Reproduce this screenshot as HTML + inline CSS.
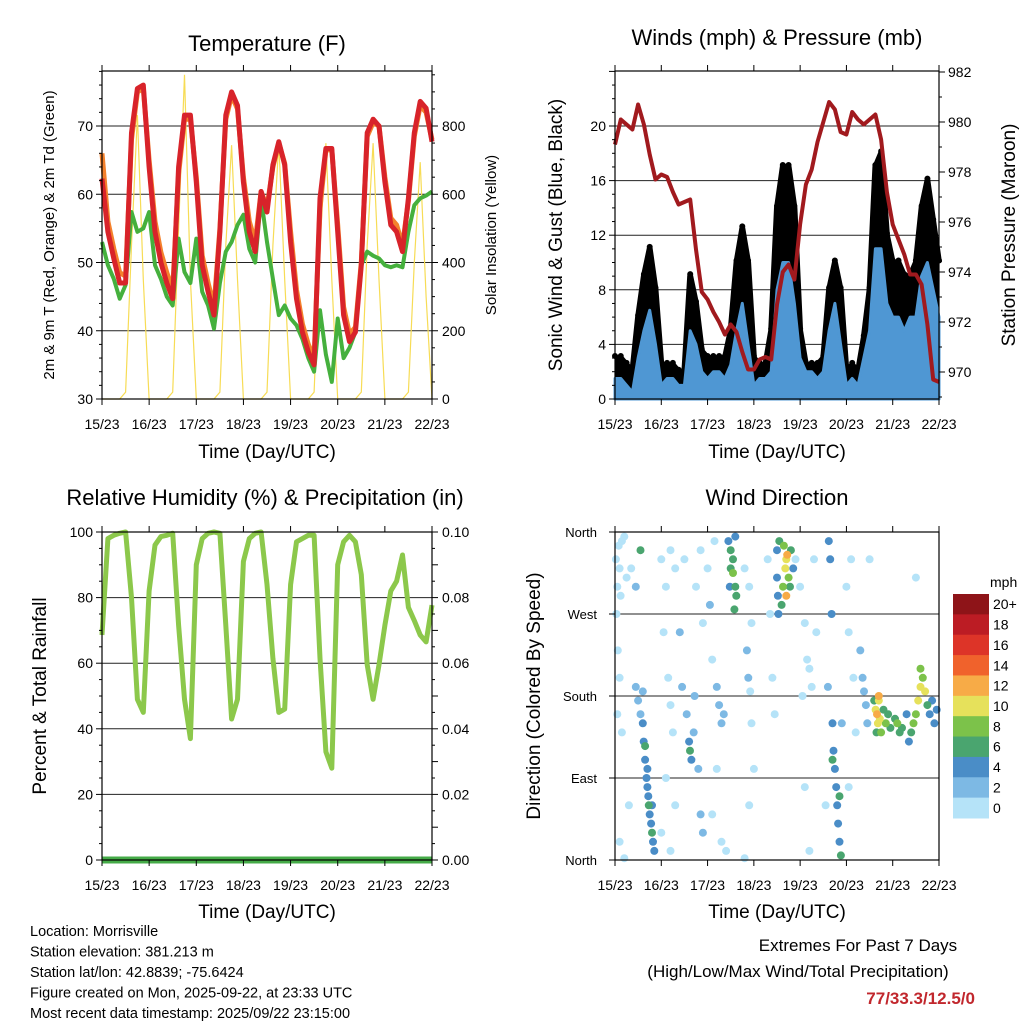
<!DOCTYPE html>
<html><head><meta charset="utf-8">
<style>
html,body{margin:0;padding:0;background:#fff;}
svg{display:block;font-family:"Liberation Sans",sans-serif;}
</style></head>
<body>
<svg id="c" width="1024" height="1024" viewBox="0 0 1024 1024" xmlns="http://www.w3.org/2000/svg"></svg>
<script>
// ---------- DATA (3-hour steps, 0..7 days) ----------
const dayLabels=["15/23","16/23","17/23","18/23","19/23","20/23","21/23","22/23"];
const tempRed=[62.3,54.5,50.6,47,47,69,75.5,76,64,54.5,50,47,44.7,64,71.6,71.6,61.8,49.6,45.7,42.3,54.5,71.6,75,73,61.8,54.5,51.6,60.4,57.4,64.3,67.7,64.3,53,44.7,39.8,36.9,35,59.4,66.7,66.7,54.5,42.3,38.4,39.8,49.6,69,71,70,61.8,55.5,54.5,51.6,59.4,69,73.6,72.6,67.7];
const tempOrange=[66,56,52,48.5,48,68,75,75.5,65,56,51.5,48.5,46,63,71,71,62.5,51,47,43.5,55,71,74.5,72.5,62.5,56,53,60.4,58,64,67.5,64.5,54.5,46,41,38,36,58,66.5,66.5,55.5,43.5,39.5,40.5,50,68.5,70.5,70,62.5,56.5,55.5,52.5,59,68.5,73,72,68];
const tempDew=[53,49.6,47.6,44.7,46.7,57.4,54.5,55,57.4,49.6,47.6,45,43.7,53.5,48.6,47,53.5,45.7,43.7,40.3,47,51.6,53,55.5,57,52,50,59.4,53,47.6,42.3,43.7,41.8,40.8,38.8,36,34,43,36.5,32.5,41.8,36,37.5,39.8,49.6,51.6,51,50.6,49.6,49.3,49.6,49.3,54.5,58.4,59.4,59.8,60.4];
const solar=[0,0,0,0,20,450,832,350,0,0,0,0,20,500,950,350,0,0,0,0,20,450,744,350,0,0,0,0,20,450,750,350,0,0,0,0,20,450,750,350,0,0,0,0,20,450,750,350,0,0,0,0,20,400,694,300,0];
const windSpd=[1.5,1.5,1,0.5,3,5,6.5,4,1,1.5,1.5,1,1,5,4,2,1.5,2,2,1.5,2.5,5,7,4,1,1.5,1.5,2,8,10,10,7,3,2,2,1.5,2,5,7,4,1,1.5,1,3,5,11,11,7,6,6,5,6,6,9,10,8,6];
const windGust=[3,3,2.5,2,6,9,11,8,2.5,2.5,2.5,2,2,9,7,3.5,3,3,3,3,5,10,12.5,10,3,2.5,2.5,5,14,17,17,14,5,2.5,2.5,2.5,3,8,10,8,2,2.5,2,4.5,8,17,18,12,10,10,9,9,10,14,16,13,10];
const pressure=[979.1,980.1,979.9,979.7,980.7,979.9,978.7,977.7,977.9,977.8,977.2,976.7,976.8,976.9,974.9,973.2,972.9,972.4,972,971.5,971.9,971.6,970.8,970.1,970.1,970.5,970.6,970.5,972.7,974,974.3,973.7,975.9,977.5,978.1,979.2,980,980.8,980.5,979.6,979.5,980.4,980.1,979.9,980.1,980.3,979.3,977.2,975.9,975.3,974.7,973.9,973.9,973.5,971.9,969.7,969.6];
const rh=[68.6,98,99,99.6,100,80,49,45,82,96,98.6,99,99.6,71.6,49,37,90,98,99.6,100,99.6,71.6,43,49,91,98,99.6,100,84,61.5,45,46,84,97,98,99,99,61.5,33,28,90,97,99,97,87,59.5,49,59.5,71.6,82,85,93,77,73,68.6,66.5,77.7];
const precip=[0,0,0,0,0,0,0,0,0,0,0,0,0,0,0,0,0,0,0,0,0,0,0,0,0,0,0,0,0,0,0,0,0,0,0,0,0,0,0,0,0,0,0,0,0,0,0,0,0,0,0,0,0,0,0,0,0];
const dirDays=[0.02,0.05,0.08,0.1,0.12,0.15,0.03,0.06,0.1,0.2,0.25,0.05,0.15,0.3,0.1,0.2,0.35,0.45,0.55,
0.45,0.5,0.55,0.6,0.62,0.65,0.68,0.7,0.72,0.73,0.75,0.78,0.8,0.82,0.7,0.65,0.8,0.6,0.85,
1.0,1.1,1.2,1.3,1.05,1.15,1.2,1.25,1.1,1.3,1.0,1.2,1.4,1.45,1.5,
1.55,1.6,1.62,1.65,1.7,1.72,1.8,1.85,1.9,1.75,1.85,1.9,
2.0,2.05,2.1,2.2,2.25,2.3,2.35,2.2,2.1,2.3,2.15,2.4,
2.45,2.5,2.55,2.55,2.6,2.5,2.62,2.48,2.6,2.58,
2.8,2.9,2.95,2.85,2.88,2.92,2.95,3.0,2.9,2.8,
3.3,3.35,3.4,3.45,3.5,3.5,3.52,3.53,3.55,3.65,3.7,3.68,3.72,3.75,3.78,3.63,3.8,3.85,3.6,3.7,
3.9,4.0,4.1,4.15,4.2,4.05,4.25,4.1,4.2,4.3,4.35,
4.62,4.65,4.68,4.7,4.72,4.75,4.78,4.8,4.82,4.85,4.88,4.7,4.85,4.6,4.55,4.9,
5.0,5.05,5.1,5.15,5.2,5.05,5.3,5.35,5.38,5.42,5.45,5.5,
5.6,5.63,5.66,5.68,5.7,5.72,5.75,5.8,5.85,5.9,5.95,5.7,5.65,
6.05,6.1,6.15,6.2,6.3,6.35,6.4,6.45,6.5,6.55,6.6,6.65,6.7,6.75,6.8,6.85,6.9,6.95,6.6,6.5];
const dirDeg=[330,300,345,320,290,350,270,230,200,355,310,160,140,60,20,2,320,300,340,
190,175,160,150,130,110,90,80,70,60,50,40,30,20,100,125,60,185,10,
330,300,340,320,250,200,170,140,90,60,30,10,250,190,330,
160,130,120,110,140,180,100,50,30,300,340,260,
320,280,220,190,170,150,160,100,50,20,350,10,
350,340,330,315,300,320,290,300,355,275,
320,300,260,230,200,185,150,100,60,2,
330,270,200,160,340,310,290,270,350,345,330,320,335,310,300,300,340,320,280,290,
330,300,260,220,210,180,190,80,10,330,250,
350,330,270,150,120,100,80,60,40,20,5,110,70,190,60,150,
300,250,330,200,140,80,230,200,185,170,150,330,
175,165,160,150,175,155,140,165,150,160,145,180,140,
155,150,140,145,160,130,140,150,160,175,190,200,185,170,160,175,150,165,210,310];
const dirSpd=[0,0,0,0,1,0,0,0,0,0,0,0,0,0,0,0,0,2,6,
2,2,3,4,4,5,4,4,5,6,5,4,6,4,5,6,4,3,4,
0,0,1,0,0,0,0,1,0,0,0,0,2,2,1,
2,4,6,4,3,2,2,2,3,1,0,1,
1,2,0,2,2,2,2,0,0,0,0,0,
4,6,7,8,6,7,6,4,5,6,
1,0,1,2,2,1,0,0,0,0,
1,0,0,0,4,5,4,4,6,8,10,10,12,8,7,8,6,4,6,12,
1,0,0,1,0,1,0,0,0,1,0,
4,4,4,4,4,5,4,4,4,4,6,6,6,2,0,2,
1,0,0,0,0,0,2,2,2,2,3,0,
6,10,12,10,11,10,8,6,8,6,7,12,7,
6,8,6,6,4,4,6,8,8,10,10,8,10,6,4,4,4,4,8,0];
const speedLabels=["20+","18","16","14","12","10","8","6","4","2","0"];
const dirLabels=["North","West","South","East","North"];

// ---------- RENDER ----------
const svg=document.getElementById('c');
const NS="http://www.w3.org/2000/svg";
function mk(tag,attrs,parent){const e=document.createElementNS(NS,tag);for(const k in attrs)e.setAttribute(k,attrs[k]);(parent||svg).appendChild(e);return e;}
function txt(s,x,y,size,anchor,parent,extra){const t=mk('text',Object.assign({x:x,y:y,'font-size':size,'text-anchor':anchor||'middle',fill:'#000'},extra||{}),parent);t.textContent=s;return t;}
function pts(arr,xf,yf){return arr.map((v,i)=>xf(i/8).toFixed(1)+','+yf(v).toFixed(1)).join(' ');}

function frame(g,x0,y0,x1,y1,bottomLabelY){
  const r=mk('rect',{x:x0,y:y0,width:x1-x0,height:y1-y0,fill:'none',stroke:'#000','stroke-width':1.2},g);
  
  const xs=d=>x0+d*(x1-x0)/7;
  for(let i=0;i<8;i++){
    const x=xs(i);
    mk('line',{x1:x,y1:y1,x2:x,y2:y1+6,stroke:'#000','stroke-width':1},g);
    mk('line',{x1:x,y1:y0,x2:x,y2:y0-6,stroke:'#000','stroke-width':1},g);
    const t=txt(dayLabels[i],x,bottomLabelY,14,'middle',g);
    
  }
  return xs;
}
function hgrid(g,x0,x1,y){mk('line',{x1:x0,y1:y,x2:x1,y2:y,stroke:'#222','stroke-width':1},g);}
function ytick(g,x,y,dir,len){mk('line',{x1:x,y1:y,x2:x+dir*len,y2:y,stroke:'#000','stroke-width':1},g);}

// ===== Panel 1: Temperature =====
(function(){
  const g=mk('g',{});
  const x0=102,x1=432,y0=71,y1=399;
  const yT=v=>399-(v-30)*6.825, yS=v=>399-v*68.25/200;
  [40,50,60,70].forEach(v=>hgrid(g,x0,x1,yT(v)));
  const xs=d=>x0+d*(x1-x0)/7;
  const sl=mk('polyline',{points:pts(solar,xs,yS),fill:'none',stroke:'#f7dc55','stroke-width':1.2},g);
  
  const o=mk('polyline',{points:pts(tempOrange,xs,yT),fill:'none',stroke:'#f4812c','stroke-width':5,'stroke-linejoin':'round'},g);
  
  const gr=mk('polyline',{points:pts(tempDew,xs,yT),fill:'none',stroke:'#45b03d','stroke-width':4,'stroke-linejoin':'round'},g);
  
  const r=mk('polyline',{points:pts(tempRed,xs,yT),fill:'none',stroke:'#d8232a','stroke-width':5,'stroke-linejoin':'round'},g);
  
  frame(g,x0,y0,x1,y1,429);
  for(let v=30;v<=78;v+=2){ytick(g,x0,yT(v),-1,v%10==0?6:3);}
  [30,40,50,60,70].forEach(v=>{const t=txt(String(v),93,yT(v)+5,14,'end',g);});
  for(let v=0;v<=950;v+=50){ytick(g,x1,yS(v),1,v%200==0?6:3);}
  [0,200,400,600,800].forEach(v=>{const t=txt(String(v),442,yS(v)+5,14,'start',g);});
  let t=txt('Temperature (F)',267,51,22,'middle',g);
  t=txt('Time (Day/UTC)',267,458,19,'middle',g);
  t=txt('2m & 9m T (Red, Orange) & 2m Td (Green)',0,0,15,'middle',g,{transform:'translate(54,235) rotate(-90)'});
  t=txt('Solar Insolation (Yellow)',0,0,15,'middle',g,{transform:'translate(496,235) rotate(-90)'});
})();

// ===== Panel 2: Winds & Pressure =====
(function(){
  const g=mk('g',{});
  const x0=615,x1=939,y0=71,y1=399;
  const yW=v=>399-v*13.65, yP=v=>122+(980-v)*25;
  [4,8,12,16,20].forEach(v=>hgrid(g,x0,x1,yW(v)));
  const xs=d=>x0+d*(x1-x0)/7;
  const up=windGust.map((v,i)=>xs(i/8).toFixed(1)+','+yW(v).toFixed(1));
  const lo=windSpd.map((v,i)=>xs(i/8).toFixed(1)+','+yW(v).toFixed(1)).reverse();
  const ga=mk('polygon',{points:up.concat(lo).join(' '),fill:'#000'},g);
  
  const gl=mk('polyline',{points:pts(windGust,xs,yW),fill:'none',stroke:'#000','stroke-width':6,'stroke-linejoin':'round'},g);
  
  windGust.forEach((v,i)=>{const c=mk('circle',{cx:xs(i/8),cy:yW(v)-2,r:3,fill:'#000'},g);});
  const wl=windSpd.map((v,i)=>xs(i/8).toFixed(1)+','+yW(v).toFixed(1));
  const wa=mk('polygon',{points:[x0+','+y1].concat(wl).concat([x1+','+y1]).join(' '),fill:'#4f97d3',stroke:'#4f97d3','stroke-width':3,'stroke-linejoin':'round'},g);
  
  const pl=mk('polyline',{points:pts(pressure,xs,yP),fill:'none',stroke:'#a11a1e','stroke-width':4,'stroke-linejoin':'round'},g);
  
  frame(g,x0,y0,x1,y1,429);
  for(let v=0;v<=24;v+=1){ytick(g,x0,yW(v),-1,v%4==0?6:3);}
  [0,4,8,12,16,20].forEach(v=>{const t=txt(String(v),606,yW(v)+5,14,'end',g);});
  for(let v=969;v<=982;v+=1){ytick(g,x1,yP(v),1,v%2==0?6:3);}
  [970,972,974,976,978,980,982].forEach(v=>{const t=txt(String(v),948,yP(v)+5,14,'start',g);});
  let t=txt('Winds (mph) & Pressure (mb)',777,45,22,'middle',g);
  t=txt('Time (Day/UTC)',777,458,19,'middle',g);
  t=txt('Sonic Wind & Gust (Blue, Black)',0,0,19,'middle',g,{transform:'translate(562,235) rotate(-90)'});
  t=txt('Station Pressure (Maroon)',0,0,19,'middle',g,{transform:'translate(1015,235) rotate(-90)'});
})();

// ===== Panel 3: RH & Precip =====
(function(){
  const g=mk('g',{});
  const x0=102,x1=432,y0=532,y1=860;
  const yR=v=>860-v*3.28, yPr=v=>860-v*3280;
  [20,40,60,80].forEach(v=>hgrid(g,x0,x1,yR(v)));
  const xs=d=>x0+d*(x1-x0)/7;
  const l=mk('polyline',{points:pts(rh,xs,yR),fill:'none',stroke:'#8cc84b','stroke-width':5,'stroke-linejoin':'round'},g);
  
  const p=mk('polyline',{points:pts(precip,xs,yPr),fill:'none',stroke:'#45ab48','stroke-width':7},g);
  
  frame(g,x0,y0,x1,y1,890);
  for(let v=0;v<=100;v+=5){ytick(g,x0,yR(v),-1,v%20==0?6:3);ytick(g,x1,yR(v),1,v%10==0?6:3);}
  [0,20,40,60,80,100].forEach(v=>{const t=txt(String(v),93,yR(v)+5,14,'end',g);});
  ['0.00','0.02','0.04','0.06','0.08','0.10'].forEach((s,i)=>{const t=txt(s,442,yR(i*20)+5,14,'start',g);});
  let t=txt('Relative Humidity (%) & Precipitation (in)',265,505,22,'middle',g);
  t=txt('Time (Day/UTC)',267,918,19,'middle',g);
  t=txt('Percent & Total Rainfall',0,0,19,'middle',g,{transform:'translate(46,696) rotate(-90)'});
})();

// ===== Panel 4: Wind Direction =====
(function(){
  const g=mk('g',{});
  const x0=615,x1=939,y0=532,y1=860;
  const yD=v=>860-v*328/360;
  [90,180,270].forEach(v=>hgrid(g,x0,x1,yD(v)));
  const xs=d=>x0+d*(x1-x0)/7;
  const colors=["#b5e3f8","#7db9e4","#4a8dc7","#4aa56f","#7cc24a","#e6e15b","#f7ab47","#f0622c","#dd3428","#bc1c24","#8e1418"];
  const order=dirSpd.map((s,i)=>i).sort((a,b)=>dirSpd[a]-dirSpd[b]);
  order.forEach(i=>{
    const bin=Math.min(10,Math.floor(dirSpd[i]/2));
    const c=mk('circle',{cx:xs(dirDays[i]).toFixed(1),cy:yD(dirDeg[i]).toFixed(1),r:4,fill:colors[bin]},g);
    
    
  });
  frame(g,x0,y0,x1,y1,890);
  dirLabels.forEach((s,i)=>{const y=y0+i*82;ytick(g,x0,y,-1,6);const t=txt(s,597,y+5,13,'end',g);});
  let t=txt('Wind Direction',777,505,22,'middle',g);
  t=txt('Time (Day/UTC)',777,918,19,'middle',g);
  t=txt('Direction (Colored By Speed)',0,0,19,'middle',g,{transform:'translate(540,696) rotate(-90)'});
  const cb=mk('g',{},g);
  const bh=224/11;
  speedLabels.forEach((s,i)=>{
    const rr=mk('rect',{x:953,y:594+i*bh,width:36,height:bh+0.5,fill:colors[10-i]},cb);
    
    const tt=txt(s,993,594+i*bh+bh/2+5,14,'start',cb);
  });
  t=txt('mph',990,587,14,'start',cb);
})();

// ===== Footer text =====
(function(){
  const g=mk('g',{});
  ["Location: Morrisville","Station elevation: 381.213 m","Station lat/lon: 42.8839; -75.6424","Figure created on Mon, 2025-09-22, at 23:33 UTC","Most recent data timestamp: 2025/09/22 23:15:00"].forEach((s,i)=>{
    const t=txt(s,30,936+i*20.5,14.5,'start',g);
  });
  const h=mk('g',{});
  let t=txt('Extremes For Past 7 Days',858,951,17,'middle',h);
  t=txt('(High/Low/Max Wind/Total Precipitation)',798,977,17,'middle',h);
  t=txt('77/33.3/12.5/0',975,1004,17,'end',h,{fill:'#c1272d','font-weight':'bold'});
})();
</script>
</body></html>
